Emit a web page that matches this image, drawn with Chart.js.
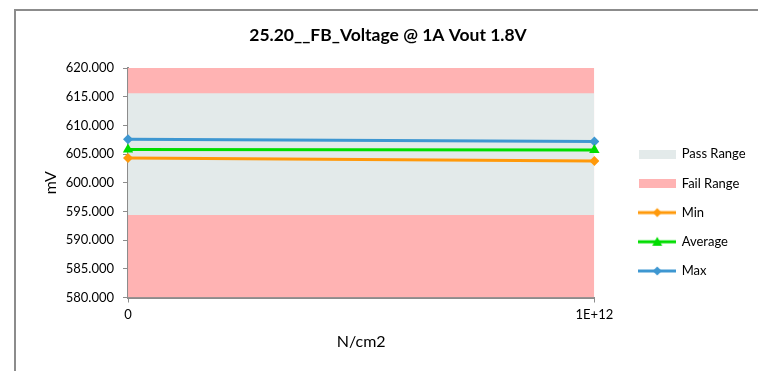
<!DOCTYPE html>
<html>
<head>
<meta charset="utf-8">
<script src="https://cdn.jsdelivr.net/npm/chart.js@4.4.1/dist/chart.umd.min.js"></script>
<style>
    body { margin: 0; background: #fff; }
    #wrap { position: relative; width: 758px; height: 371px; overflow: hidden; }
    #frame {
        position: absolute; left: 14px; top: 9px; width: 800px; height: 400px;
        border: 2px solid #8c8c8c; pointer-events: none;
    }
</style>
</head>
<body>
<div id="wrap">
    <canvas id="chart-fb" width="758" height="371"></canvas>
    <div id="frame"></div>
</div>
<script>
const categories = ["0", "1E+12"];
const minValues = [604.3, 603.8];
const avgValues = [605.8, 605.7];
const maxValues = [607.6, 607.2];
const passHighValues = [615.6, 615.6];
const passLowValues = [594.4, 594.4];
const failTopValues = [620, 620];

const yMin = 580;
const yMax = 620;
const yStep = 5;

const FONT = "Lato";

// little pictures for the legend
function boxIcon(color) {
    const c = document.createElement("canvas");
    c.width = 37;
    c.height = 9;
    const ctx = c.getContext("2d");
    ctx.fillStyle = color;
    ctx.fillRect(0, 0, 37, 9);
    return c;
}

function lineIcon(color, marker) {
    const c = document.createElement("canvas");
    c.width = 38;
    c.height = 12;
    const ctx = c.getContext("2d");
    ctx.strokeStyle = color;
    ctx.fillStyle = color;
    ctx.lineWidth = 3;
    ctx.beginPath();
    ctx.moveTo(0, 6);
    ctx.lineTo(38, 6);
    ctx.stroke();
    ctx.beginPath();
    if (marker === "triangle") {
        ctx.moveTo(19, 1);
        ctx.lineTo(24, 10);
        ctx.lineTo(14, 10);
    } else {
        ctx.moveTo(19, 1.5);
        ctx.lineTo(23.5, 6);
        ctx.lineTo(19, 10.5);
        ctx.lineTo(14.5, 6);
    }
    ctx.closePath();
    ctx.fill();
    return c;
}

const colors = {
    pass: "#e3eaea",
    fail: "#ffb3b3",
    min: "#ff990a",
    avg: "#00dd00",
    max: "#3e97d1",
};

const legendIcons = [
    boxIcon(colors.pass),
    boxIcon(colors.fail),
    lineIcon(colors.min, "diamond"),
    lineIcon(colors.avg, "triangle"),
    lineIcon(colors.max, "diamond"),
];

// move legend + title a bit, like the excel sheet
const legendPlace = {
    id: "legendPlace",
    afterLayout(chart) {
        const lg = chart.legend;
        if (lg) {
            const w = lg.width;
            lg.left = 623;
            lg.right = lg.left + w;
            lg.top = 131.5;
        }
        const tb = chart.titleBlock;
        if (tb) {
            tb.left += 7;
            tb.right += 7;
        }
    },
};

function lineSet(label, data, color, style, radius) {
    return {
        label: label,
        data: data,
        borderColor: color,
        backgroundColor: color,
        borderWidth: 3,
        pointStyle: style,
        pointRadius: radius,
        pointBorderWidth: 0,
        fill: false,
        tension: 0,
        order: 0,
    };
}

const chartFb = document.getElementById("chart-fb");

new Chart(chartFb, {
    type: "line",
    data: {
        labels: categories,
        datasets: [
            {
                label: "Pass Range",
                data: passHighValues,
                borderColor: "rgba(0,0,0,0)",
                backgroundColor: colors.pass,
                pointRadius: 0,
                fill: 5,
                order: 2,
            },
            {
                label: "Fail Range",
                data: failTopValues,
                borderColor: "rgba(0,0,0,0)",
                backgroundColor: colors.fail,
                pointRadius: 0,
                fill: "start",
                order: 3,
            },
            lineSet("Min", minValues, colors.min, "rectRot", 5),
            lineSet("Average", avgValues, colors.avg, "triangle", 6),
            lineSet("Max", maxValues, colors.max, "rectRot", 5),
            {
                label: "passLow",
                data: passLowValues,
                borderColor: "rgba(0,0,0,0)",
                pointRadius: 0,
                fill: false,
                order: 1,
            },
        ],
    },
    options: {
        responsive: false,
        animation: false,
        layout: {
            padding: { top: 10, left: 35, right: 31, bottom: 15.7 },
        },
        plugins: {
            title: {
                display: true,
                text: "25.20__FB_Voltage @ 1A Vout 1.8V",
                color: "#000",
                font: { family: FONT, size: 17.5, weight: "bold" },
                padding: { top: 14.5, bottom: 22.5 },
            },
            tooltip: { enabled: false },
            legend: {
                position: "right",
                align: "start",
                labels: {
                    usePointStyle: true,
                    pointStyleWidth: 36,
                    padding: 16.2,
                    color: "#000",
                    font: { family: FONT, size: 13 },
                    generateLabels: function (chart) {
                        return chart.data.datasets.slice(0, 5).map(function (ds, i) {
                            return {
                                text: ds.label,
                                pointStyle: legendIcons[i],
                                fillStyle: "rgba(0,0,0,0)",
                                strokeStyle: "rgba(0,0,0,0)",
                                lineWidth: 0,
                                hidden: false,
                                datasetIndex: i,
                            };
                        });
                    },
                },
            },
        },
        scales: {
            x: {
                type: "category",
                offset: false,
                grid: {
                    drawOnChartArea: false,
                    tickLength: 5,
                    color: "#8c8c8c",
                },
                border: { color: "#8c8c8c", width: 2 },
                ticks: {
                    color: "#000",
                    font: { family: FONT, size: 13 },
                    padding: 5,
                    maxRotation: 0,
                },
                title: {
                    display: true,
                    text: "N/cm2",
                    color: "#000",
                    font: { family: FONT, size: 16 },
                    padding: { top: 4, bottom: 4 },
                },
            },
            y: {
                min: yMin,
                max: yMax,
                grid: {
                    drawOnChartArea: false,
                    tickLength: 5,
                    color: "#8c8c8c",
                },
                border: { color: "#8c8c8c", width: 2 },
                ticks: {
                    stepSize: yStep,
                    color: "#000",
                    font: { family: FONT, size: 13 },
                    padding: 9,
                    callback: function (value) {
                        return value.toFixed(3);
                    },
                },
                title: {
                    display: true,
                    text: "mV",
                    color: "#000",
                    font: { family: FONT, size: 16 },
                    padding: { top: 6, bottom: -3.5 },
                },
            },
        },
    },
    plugins: [legendPlace],
});
</script>
</body>
</html>
